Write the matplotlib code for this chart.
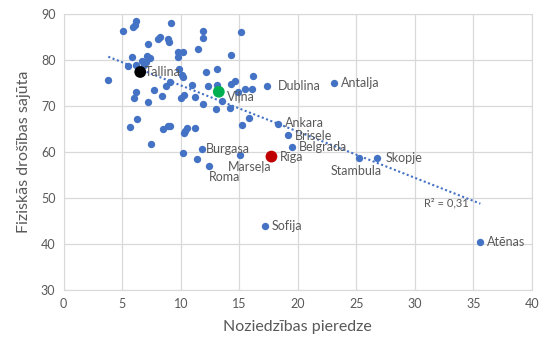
import numpy as np
import matplotlib.pyplot as plt

plt.rcParams['font.family'] = ['Lato', 'DejaVu Sans']

# unlabeled cities
x_other = [5.07, 5.9, 6.06, 6.2, 9.18, 7.22, 8.07, 8.24, 8.9, 9.0, 5.85, 7.14, 7.39, 7.02,
           6.71, 6.85, 6.2, 5.46, 3.81, 11.9, 11.9, 15.13, 11.48, 14.3, 9.78, 10.2, 9.78,
           9.86, 10.1, 10.2, 12.2, 13.14, 16.2, 11.0, 12.34, 13.1, 14.33, 14.67, 15.5, 16.1,
           14.85, 13.5, 10.26, 10.06, 11.2, 11.9, 13.05, 14.2, 15.84, 15.24, 9.07, 10.5,
           10.35, 10.26, 11.2, 10.2, 11.37, 6.14, 5.97, 7.68, 8.78, 8.4, 7.2, 6.28, 5.68,
           8.5, 8.93, 7.47, 9.07]
y_other = [86.4, 87.2, 87.7, 88.4, 88.0, 83.4, 84.5, 84.9, 84.5, 83.9, 80.6, 80.9, 80.4, 79.6,
           79.8, 78.9, 78.9, 78.7, 75.6, 86.3, 84.8, 86.0, 82.3, 81.2, 81.7, 81.7, 80.6,
           78.0, 76.7, 76.4, 77.3, 78.0, 76.5, 74.5, 74.3, 74.5, 74.85, 75.4, 73.8, 73.6,
           73.1, 71.1, 72.4, 71.7, 72.0, 70.4, 69.3, 69.5, 67.3, 65.9, 65.7, 65.2,
           64.6, 64.2, 65.3, 59.8, 58.5, 73.1, 71.8, 73.4, 74.4, 72.2, 70.8, 67.1, 65.4,
           64.9, 65.7, 61.8, 75.3]

# labeled blue cities
cities = ['Dublina', 'Antalja', 'Ankara', 'Brisele', 'Belgrada', 'Burgasa', 'Roma', 'Marseļa',
          'Stambula', 'Skopje', 'Sofija', 'Atēnas']
x_city = [17.35, 23.06, 18.3, 19.2, 19.5, 11.83, 12.42, 15.07, 25.2, 26.76, 17.17, 35.6]
y_city = [74.3, 75.1, 66.0, 63.8, 61.0, 60.7, 57.0, 59.3, 58.6, 58.6, 44.0, 40.4]

# highlighted cities
hl_names = ['Tallina', 'Viļna', 'Rīga']
hl_x = [6.54, 13.25, 17.75]
hl_y = [77.4, 73.1, 59.0]
hl_colors = ['black', '#00B050', '#C00000']

blue = '#4472C4'
grey = '#595959'

fig = plt.figure(figsize=(5.54, 3.51), dpi=100)
ax = fig.add_axes([0.115, 0.174, 0.845, 0.786])

ax.scatter(x_other, y_other, s=28, color=blue, zorder=3, linewidths=0)
ax.scatter(x_city, y_city, s=28, color=blue, zorder=3, linewidths=0)
ax.scatter(hl_x, hl_y, s=72, c=hl_colors, zorder=4, linewidths=0)

# linear trendline over all points
all_x = np.array(x_other + x_city + hl_x)
all_y = np.array(y_other + y_city + hl_y)
k, b = np.polyfit(all_x, all_y, 1)
tx = np.array([all_x.min(), all_x.max()])
ax.plot(tx, k * tx + b, color=blue, linestyle=(0, (1, 1.2)), linewidth=1.5, zorder=2)
ax.text(32.7, k * 32.7 + b - 1.5, 'R² = 0,31', fontsize=8, color=grey, ha='center', va='top')

# label offsets in points
offsets = {
    'Dublina': (8, 0, 'left', 'center'),
    'Antalja': (5, 0, 'left', 'center'),
    'Ankara': (5, 1, 'left', 'center'),
    'Brisele': (5, -1, 'left', 'center'),
    'Belgrada': (5, 0, 'left', 'center'),
    'Burgasa': (3, 0, 'left', 'center'),
    'Roma': (0, -4, 'left', 'top'),
    'Marseļa': (7, -4, 'center', 'top'),
    'Stambula': (-2, -5, 'center', 'top'),
    'Skopje': (6, 0, 'left', 'center'),
    'Sofija': (5, 0, 'left', 'center'),
    'Atēnas': (5, 0, 'left', 'center'),
    'Tallina': (3, 0, 'left', 'center'),
    'Viļna': (6, -4, 'left', 'center'),
    'Rīga': (6, 0, 'left', 'center'),
}
for name, x, y in zip(cities + hl_names, x_city + hl_x, y_city + hl_y):
    dx, dy, ha, va = offsets[name]
    ax.annotate(name, (x, y), xytext=(dx, dy), textcoords='offset points',
                fontsize=9, color=grey, ha=ha, va=va, zorder=5)

ax.set_xlim(0, 40)
ax.set_ylim(30, 90)
ax.set_xticks(range(0, 41, 5))
ax.set_yticks(range(30, 91, 10))
ax.grid(color='#D9D9D9', linewidth=0.9)
ax.set_axisbelow(True)
for s in ax.spines.values():
    s.set_color('#D9D9D9')
ax.tick_params(length=0, labelsize=9, labelcolor=grey, pad=6)
ax.set_xlabel('Noziedzības pieredze', fontsize=11.5, color=grey, labelpad=7)
ax.set_ylabel('Fiziskās drošības sajūta', fontsize=11.5, color=grey, labelpad=7)

fig.savefig('out.png', dpi=100)
